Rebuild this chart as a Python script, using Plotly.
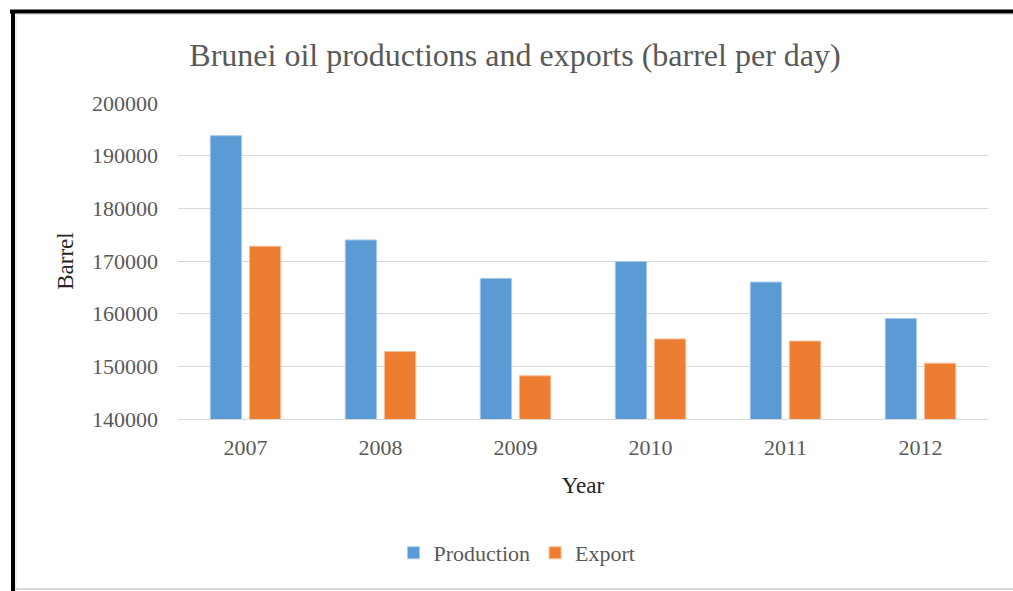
import plotly.graph_objects as go

# Brunei oil production vs. exports, barrels per day
years = ["2007", "2008", "2009", "2010", "2011", "2012"]
production = [193800, 174000, 166700, 169900, 166000, 159100]
export = [172800, 152800, 148200, 155200, 154800, 150600]
y_ticks = [140000, 150000, 160000, 170000, 180000, 190000, 200000]

W, H = 1013, 591
L, R, T, B = 178, 25, 103, 172
PW, PH = W - L - R, H - T - B


def px_x(x):
    return (x - L) / PW


def px_y(y):
    return (H - B - y) / PH


SERIF = "Liberation Serif, Times New Roman, serif"
GREY = "#595959"

fig = go.Figure()
fig.add_trace(go.Bar(
    x=years, y=production, name="Production",
    marker=dict(color="#5B9BD5", line=dict(color="#A9CAEA", width=1)),
))
fig.add_trace(go.Bar(
    x=years, y=export, name="Export",
    marker=dict(color="#ED7D31", line=dict(color="#F6BE98", width=1)),
))

# outer frame: heavy black rule top and left, light rule at the bottom
shapes = [
    dict(type="line", xref="paper", yref="paper",
         x0=px_x(10), x1=px_x(W), y0=px_y(11.5), y1=px_y(11.5),
         line=dict(color="black", width=4)),
    dict(type="line", xref="paper", yref="paper",
         x0=px_x(13), x1=px_x(13), y0=px_y(10), y1=px_y(H),
         line=dict(color="black", width=4)),
    dict(type="line", xref="paper", yref="paper",
         x0=px_x(15), x1=px_x(W), y0=px_y(14.5), y1=px_y(14.5),
         line=dict(color="#e3e3e3", width=1)),
    dict(type="line", xref="paper", yref="paper",
         x0=px_x(16), x1=px_x(16), y0=px_y(14), y1=px_y(H),
         line=dict(color="#e3e3e3", width=1)),
    dict(type="line", xref="paper", yref="paper",
         x0=px_x(15), x1=px_x(W), y0=px_y(589), y1=px_y(589),
         line=dict(color="#d9d9d9", width=2)),
]

fig.update_layout(
    width=W, height=H,
    margin=dict(l=L, r=R, t=T, b=B),
    paper_bgcolor="white", plot_bgcolor="white",
    barmode="group", bargap=0.42, bargroupgap=0.2,
    font=dict(family=SERIF, color=GREY),
    title=dict(text="Brunei oil productions and exports (barrel per day)",
               x=px_x(515), xref="paper", xanchor="center",
               y=1 - 55 / H, yref="container", yanchor="middle",
               font=dict(size=32, color=GREY, family=SERIF)),
    xaxis=dict(
        showgrid=False, showline=True, linecolor="#d9d9d9", linewidth=1,
        ticks="", tickfont=dict(size=22, color=GREY), ticklabelstandoff=9,
        title=dict(text="Year", font=dict(size=23, color="#262626"), standoff=17),
    ),
    yaxis=dict(
        range=[140000, 200000], tickvals=y_ticks,
        ticktext=[str(v) for v in y_ticks],
        showgrid=True, gridcolor="#d9d9d9", gridwidth=1,
        zeroline=False, showline=False, ticks="",
        tickfont=dict(size=22, color=GREY), ticklabelstandoff=19,
        title=dict(text="Barrel", font=dict(size=23, color="#262626"), standoff=11),
    ),
    legend=dict(
        orientation="h", x=px_x(517), xanchor="center",
        y=px_y(553), yanchor="middle",
        font=dict(size=22, color=GREY), itemwidth=30,
    ),
    shapes=shapes,
    showlegend=True,
)

fig.write_html("out.html")
